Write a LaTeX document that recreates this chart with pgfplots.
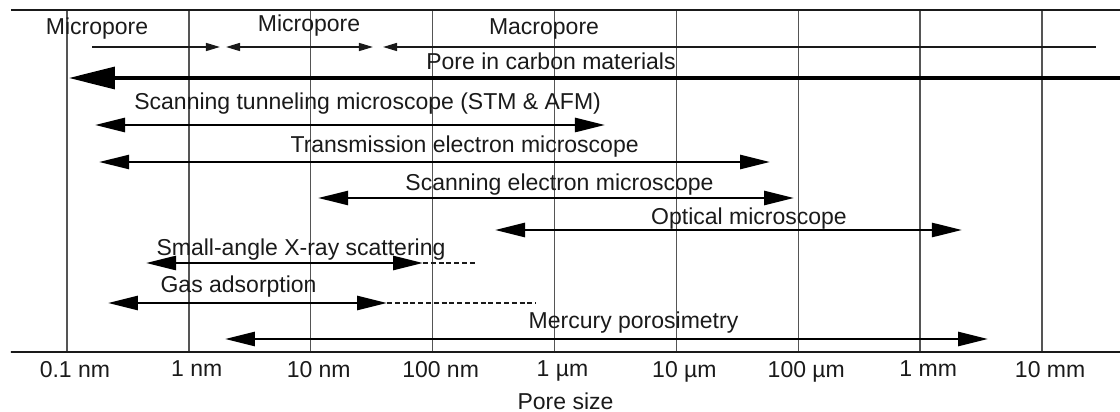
\documentclass[border=0pt]{standalone}
\usepackage{fontspec}
\setmainfont{Liberation Sans}
\usepackage{pgfplots}
\pgfplotsset{compat=1.18}
\usetikzlibrary{arrows.meta}
\definecolor{ink}{HTML}{1A1A1A}
\definecolor{gridc}{HTML}{555555}
\tikzset{lbl/.style={anchor=base, text=ink}}
\begin{document}
\begin{tikzpicture}[font=\fontsize{11.5bp}{13.8bp}\selectfont]
\path[use as bounding box] (-5.5bp,-30bp) rectangle (554.5bp,176bp);
\begin{axis}[
  at={(0,0)}, anchor=south west,
  scale only axis, width=554.5bp, height=171bp,
  xmode=log, xmin=0.03478, xmax=4.355e7,
  ymin=0, ymax=342,
  hide y axis,
  clip=false,
  xtick={0.1,1,10,100,1000,1e4,1e5,1e6,1e7},
  xticklabels={0.1 nm,1 nm,10 nm,100 nm,1 µm,10 µm,100 µm,1 mm,10 mm},
  minor xtick={},
  tick style={draw=none},
  xmajorgrids,
  major grid style={gridc, line width=0.75bp},
  x axis line style={ink, line width=1bp},
  xticklabel style={text=ink, xshift=4bp, yshift=-1bp},
  xlabel={Pore size},
  xlabel style={at={(axis description cs:0.5,0)}, anchor=center, yshift=-24.5bp, text=ink},
]
% pore classification line
\addplot[line width=0.75bp, ink, -{Triangle[length=7bp,width=4bp]}] coordinates {(0.1607,305) (1.80,305)};
\addplot[line width=0.75bp, ink, {Triangle[length=7bp,width=4bp]}-{Triangle[length=7bp,width=4bp]}] coordinates {(2.02,305) (32.4,305)};
\addplot[line width=0.75bp, ink, {Triangle[length=7bp,width=4bp]}-] coordinates {(39.2,305) (2.77e7,305)};
% pore in carbon materials
\addplot[line width=1.6bp, black, {Triangle[length=23bp,width=11bp]}-] coordinates {(0.104,274) (4.355e7,274)};
% techniques
\addplot[line width=1.3bp, black, {Triangle[length=15bp,width=7bp]}-{Triangle[length=15bp,width=7bp]}] coordinates {(0.170,227) (2594,227)};
\addplot[line width=1.3bp, black, {Triangle[length=15bp,width=7bp]}-{Triangle[length=15bp,width=7bp]}] coordinates {(0.1837,190) (5.86e4,190)};
\addplot[line width=1.3bp, black, {Triangle[length=15bp,width=7bp]}-{Triangle[length=15bp,width=7bp]}] coordinates {(11.5,154) (9.23e4,154)};
\addplot[line width=1.3bp, black, {Triangle[length=15bp,width=7bp]}-{Triangle[length=15bp,width=7bp]}] coordinates {(325,122) (2.20e6,122)};
\addplot[line width=1.3bp, black, {Triangle[length=15bp,width=7bp]}-{Triangle[length=15bp,width=7bp]}] coordinates {(0.4457,89) (83.4,89)};
\addplot[line width=0.6bp, ink, dash pattern=on 2.5bp off 1.4bp] coordinates {(83.4,89) (231,89)};
\addplot[line width=1.3bp, black, {Triangle[length=15bp,width=7bp]}-{Triangle[length=15bp,width=7bp]}] coordinates {(0.2173,49) (42.3,49)};
\addplot[line width=0.6bp, ink, dash pattern=on 2.5bp off 1.4bp] coordinates {(42.3,49) (705,49)};
\addplot[line width=1.3bp, black, {Triangle[length=15bp,width=7bp]}-{Triangle[length=15bp,width=7bp]}] coordinates {(1.98,13) (3.60e6,13)};
% labels
\node[lbl] at (axis cs:0.1766,317) {Micropore};
\node[lbl] at (axis cs:9.68,320) {Micropore};
\node[lbl] at (axis cs:820,317) {Macropore};
\node[lbl] at (axis cs:935,282) {Pore in carbon materials};
\node[lbl] at (axis cs:29.3,242) {Scanning tunneling microscope (STM \& AFM)};
\node[lbl] at (axis cs:183,199) {Transmission electron microscope};
\node[lbl] at (axis cs:1099,162) {Scanning electron microscope};
\node[lbl] at (axis cs:39400,128) {Optical microscope};
\node[lbl] at (axis cs:8.32,97) {Small-angle X-ray scattering};
\node[lbl] at (axis cs:2.56,60) {Gas adsorption};
\node[lbl] at (axis cs:4446,24) {Mercury porosimetry};
\end{axis}
\draw[ink, line width=1.3bp] (0,0) -- (554.5bp,0);
\end{tikzpicture}
\end{document}
